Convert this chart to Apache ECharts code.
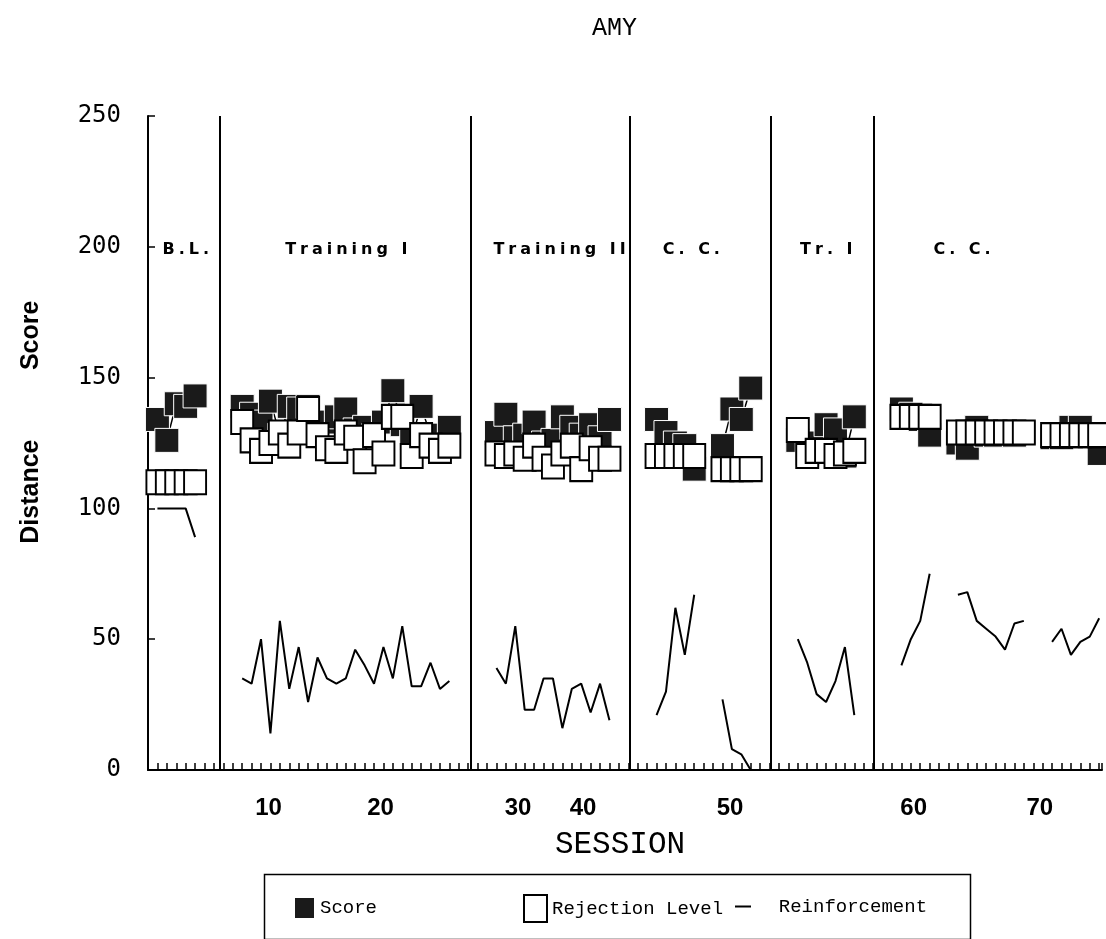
<!DOCTYPE html>
<html><head><meta charset="utf-8">
<script src="https://cdn.jsdelivr.net/npm/echarts@6/dist/echarts.min.js"></script>
<style>html,body{margin:0;padding:0;background:#fff}#c{width:1106px;height:939px}</style>
</head><body><div id="c"></div>
<script>
// ---- data ----
const phaseNames = ['B.L.', 'Training I', 'Training II', 'C. C.', 'Tr. I', 'C. C.'];
const phaseBreaks = [7.6, 34.3, 51.2, 66.1, 77.1];   // x positions of phase-change lines (slot units)
const axisMaxSlot = 101.3;

// plotted slot for each session (sessions 1..75, gaps between phases)
const slot = [1,2,3,4,5,
  10,11,12,13,14,15,16,17,18,19,20,21,22,23,24,25,26,27,28,29,30,31,32,
  37,38,39,40,41,42,43,44,45,46,47,48,49,
  54,55,56,57,58,
  61,62,63,64,
  69,70,71,72,73,74,75,
  80,81,82,83,
  86,87,88,89,90,91,92,93,
  96,97,98,99,100,101];

const score = [134,126,140,139,143,
  139,136,133,141,128,139,138,139,131,133,135,138,130,131,128,133,145,132,127,139,128,128,131,
  129,136,127,128,133,125,126,135,131,128,132,127,134,
  134,129,125,124,115,
  124,138,134,146,
  126,121,125,132,130,120,135,
  138,136,134,128,
  125,123,131,128,128,129,128,129,
  127,127,131,131,128,121];

const rejection = [110,110,110,110,110,
  133,126,122,125,129,124,129,138,128,123,122,129,127,118,128,121,135,135,120,128,124,122,124,
  121,120,121,119,124,119,116,121,124,115,123,119,119,
  120,120,120,120,120,
  115,115,115,115,
  130,120,122,122,120,121,122,
  135,135,135,135,
  129,129,129,129,129,129,129,129,
  128,128,128,128,128,128];

const reinforcement = [100,100,100,100,89,
  35,33,50,14,57,31,47,26,43,35,33,35,46,40,33,47,35,55,32,32,41,31,34,
  39,33,55,23,23,35,35,16,31,33,22,33,19,
  21,30,62,44,67,
  27,8,6,0,
  50,41,29,26,34,47,21,
  40,50,57,75,
  67,68,57,54,51,46,56,57,
  49,54,44,49,51,58];

const sessionTickLabels = ['10','20','30','40','50','60','70'];
const sessionTickAt = [12.8, 24.7, 39.3, 46.2, 61.8, 81.3, 94.7];

// ---- style-only helpers ----
const phaseLabelShift = [2, 1, 9, -9, 4, -26];
const monoFont = '"Courier New", "Liberation Mono", monospace';
const legendText = { fontFamily: monoFont, fontSize: 19, color: '#000' };

function build(vals) {
  const out = [];
  for (let i = 0; i < slot.length; i++) {
    if (i > 0 && slot[i] - slot[i - 1] > 1) out.push([(slot[i] + slot[i - 1]) / 2, '-']);
    out.push([slot[i], vals[i]]);
  }
  return out;
}
function spaced(s) { return s.split('').join('\u2005'); }

const bounds = [0].concat(phaseBreaks, [axisMaxSlot]);
const areas = phaseNames.map((n, i) => [
  { name: spaced(n), xAxis: bounds[i], label: { offset: [phaseLabelShift[i], 121] } },
  { xAxis: bounds[i + 1] }
]);

const chart = echarts.init(document.getElementById('c'));
chart.setOption({
  animation: false,
  backgroundColor: '#fff',
  title: { text: 'AMY', left: 587, top: 11,
    textStyle: { fontFamily: monoFont, fontSize: 25, fontWeight: 'normal', color: '#000' } },
  grid: { left: 148, right: 4, top: 116, bottom: 169, containLabel: false },
  xAxis: {
    type: 'value', min: 0, max: axisMaxSlot, interval: 1,
    name: 'SESSION', nameLocation: 'middle', nameGap: 59,
    nameTextStyle: { fontFamily: monoFont, fontSize: 31, color: '#000', padding: [0, 10, 0, 0] },
    axisLine: { show: true, lineStyle: { color: '#000', width: 2 } },
    axisTick: { show: true, inside: true, length: 7, interval: 0, lineStyle: { color: '#000', width: 1.5 } },
    axisLabel: {
      customValues: sessionTickAt,
      formatter: v => {
        let best = 0;
        sessionTickAt.forEach((t, i) => { if (Math.abs(t - v) < Math.abs(sessionTickAt[best] - v)) best = i; });
        return sessionTickLabels[best];
      },
      margin: 26, fontFamily: '"Liberation Sans", Arial, sans-serif', fontWeight: 'bold', fontSize: 24, color: '#000'
    },
    splitLine: { show: false }
  },
  yAxis: {
    type: 'value', min: 0, max: 250, interval: 50,
    name: '      Distance          Score', nameLocation: 'middle', nameRotate: 90, nameGap: 104,
    nameTextStyle: { fontFamily: '"Liberation Sans", Arial, sans-serif', fontWeight: 'bold', fontSize: 25, color: '#000' },
    axisLine: { show: true, lineStyle: { color: '#000', width: 2 } },
    axisTick: { show: true, inside: true, length: 7, lineStyle: { color: '#000', width: 1.5 } },
    axisLabel: { margin: 27, fontFamily: '"DejaVu Sans Mono", monospace', fontSize: 24, color: '#000' },
    splitLine: { show: false }
  },
  legend: [
    { data: ['Score'], left: 293, top: 896, icon: 'rect', itemWidth: 21, itemHeight: 22, itemGap: 0, padding: 0,
      textStyle: legendText },
    { data: ['Rejection Level'], left: 523, top: 894, icon: 'rect', itemWidth: 23, itemHeight: 27, itemGap: 0, padding: 0,
      textStyle: legendText },
    { data: ['Reinforcement'], left: 735, top: 897, icon: 'rect', itemWidth: 16, itemHeight: 2, itemGap: 0, padding: 0,
      formatter: n => '  ' + n, textStyle: legendText }
  ],
  graphic: [
    { type: 'rect', left: 262, top: 872, silent: true,
      shape: { width: 706, height: 65 }, style: { fill: 'none', stroke: '#000', lineWidth: 1.5 } }
  ],
  series: [
    { name: 'Score', type: 'line', data: build(score), z: 3,
      symbol: 'rect', symbolSize: 24, showAllSymbol: true,
      itemStyle: { color: '#1a1a1a', borderColor: '#fff', borderWidth: 1 },
      lineStyle: { color: '#000', width: 1.5 }, emphasis: { disabled: true } },
    { name: 'Rejection Level', type: 'line', data: build(rejection), z: 4,
      symbol: 'rect', symbolSize: [22, 24], showAllSymbol: true,
      itemStyle: { color: '#fff', borderColor: '#000', borderWidth: 2 },
      lineStyle: { color: '#000', width: 1.5, opacity: 0 }, emphasis: { disabled: true } },
    { name: 'Reinforcement', type: 'line', data: build(reinforcement), z: 2,
      symbol: 'none', itemStyle: { color: '#000' },
      lineStyle: { color: '#000', width: 2 },
      markLine: { silent: true, symbol: ['none', 'none'], label: { show: false },
        lineStyle: { color: '#000', width: 2, type: 'solid' },
        data: phaseBreaks.map(v => ({ xAxis: v })) },
      markArea: { silent: true, itemStyle: { color: 'rgba(0,0,0,0)' },
        label: { show: true, position: 'insideTop', color: '#000',
          fontFamily: '"DejaVu Sans", sans-serif', fontWeight: 'bold', fontSize: 16 },
        data: areas }
    }
  ]
});
</script></body></html>
